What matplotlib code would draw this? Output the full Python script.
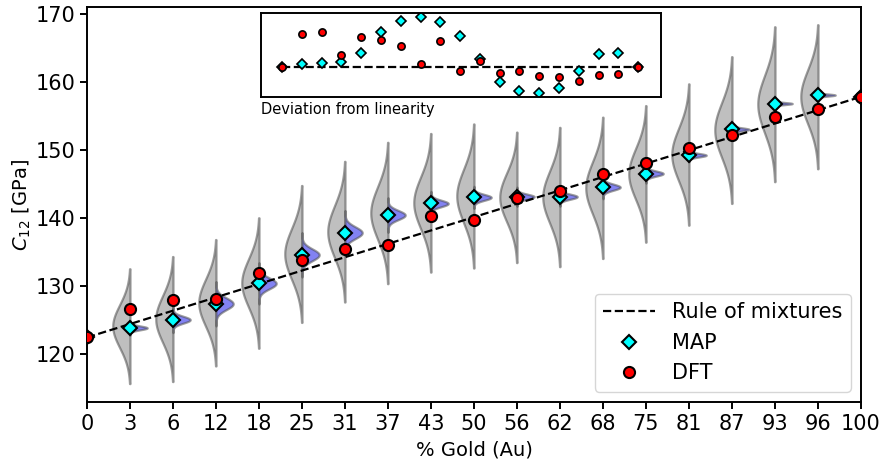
import numpy as np
import matplotlib
matplotlib.use("Agg")
import matplotlib.pyplot as plt
from matplotlib.lines import Line2D

# ---- data ----
pct_labels = [0, 3, 6, 12, 18, 25, 31, 37, 43, 50, 56, 62, 68, 75, 81, 87, 93, 96, 100]
au_32nds = [0, 1, 2, 4, 6, 8, 10, 12, 14, 16, 18, 20, 22, 24, 26, 28, 30, 31, 32]

dft = [122.4, 126.6, 127.9, 128.0, 131.9, 133.8, 135.4, 136.0, 140.3, 139.7,
       142.9, 144.0, 146.4, 148.1, 150.2, 152.1, 154.8, 156.0, 157.8]
map_est = [122.4, 123.8, 125.0, 127.35, 130.35, 134.55, 137.8, 140.4, 142.1, 143.0,
           143.1, 143.1, 144.5, 146.5, 149.2, 153.0, 156.8, 158.05, 157.8]

# gray (wide) distributions: lower / upper extent, positions 1..17
gray_lo = [115.6, 115.9, 118.2, 120.8, 124.6, 127.6, 130.3, 132.0, 132.6,
           133.4, 132.8, 134.0, 136.4, 138.9, 142.1, 145.3, 147.2]
gray_hi = [132.5, 134.3, 136.8, 140.0, 144.75, 148.3, 151.1, 152.4, 153.8,
           152.6, 153.3, 154.8, 156.5, 159.7, 163.7, 168.1, 168.4]
# blue (narrow) distributions: spread around the MAP value, positions 1..17
blue_sd = [0.28, 0.5, 0.86, 0.8, 0.86, 0.86, 0.67, 0.47, 0.43,
           0.37, 0.37, 0.45, 0.37, 0.25, 0.22, 0.15, 0.15]

# ---- figure ----
fig = plt.figure(figsize=(8.82, 4.61), dpi=100)
ax = fig.add_axes([0.0986, 0.128, 0.8776, 0.8568])

n = len(pct_labels)
pos = np.arange(n)
half = 0.4
face_gray = (0.75, 0.75, 0.75)
edge = (0.3, 0.3, 0.3, 0.55)
face_blue = '#8282f2'

for k in range(1, n - 1):
    lo, hi = gray_lo[k - 1], gray_hi[k - 1]
    c = 0.5 * (lo + hi)
    s = (hi - lo) / 5.4
    y = np.linspace(lo, hi, 300)
    d = np.exp(-0.5 * ((y - c) / s) ** 2)
    w = half * d / d.max()
    ax.fill_betweenx(y, k - w, k, facecolor=face_gray, edgecolor=edge, lw=1.6, zorder=1)

    sb = blue_sd[k - 1]
    mb = map_est[k]
    yb = np.linspace(mb - 3.8 * sb, mb + 3.8 * sb, 300)
    db = np.exp(-0.5 * ((yb - mb) / sb) ** 2)
    wb = half * db / db.max()
    ax.fill_betweenx(yb, k, k + wb, facecolor=face_blue, edgecolor=edge, lw=1.6, zorder=1)

ax.plot([pos[0], pos[-1]], [dft[0], dft[-1]], ls='--', color='black', lw=1.6, zorder=3)
ax.plot(pos, map_est, ls='none', marker='D', ms=7.5, mfc='cyan', mec='black', mew=1.5, zorder=4)
ax.plot(pos, dft, ls='none', marker='o', ms=8, mfc='red', mec='black', mew=1.5, zorder=5)

ax.set_xlim(0, n - 1)
ax.set_ylim(112.9, 171.0)
ax.set_xticks(pos)
ax.set_xticklabels([str(p) for p in pct_labels])
ax.set_yticks([120, 130, 140, 150, 160, 170])
ax.tick_params(labelsize=15, length=5, width=1.4)
for sp in ax.spines.values():
    sp.set_linewidth(1.4)
ax.set_xlabel('% Gold (Au)', fontsize=14, labelpad=5)
ax.set_ylabel('$C_{12}$ [GPa]', fontsize=14, labelpad=2)

handles = [
    Line2D([], [], ls='--', color='black', lw=1.6),
    Line2D([], [], ls='none', marker='D', ms=7.5, mfc='cyan', mec='black', mew=1.5),
    Line2D([], [], ls='none', marker='o', ms=8, mfc='red', mec='black', mew=1.5),
]
ax.legend(handles, ['Rule of mixtures', 'MAP', 'DFT'], loc='lower right',
          fontsize=15, handlelength=2.5)

# ---- inset: deviation from linearity (rule of mixtures in composition) ----
frac = np.array(au_32nds) / 32.0
rom = dft[0] + frac * (dft[-1] - dft[0])
dev_map = np.array(map_est) - rom
dev_dft = np.array(dft) - rom

axi = fig.add_axes([261 / 882, 1 - 97 / 461, 400 / 882, 84 / 461])
axi.plot([pos[0], pos[-1]], [0, 0], ls='--', color='black', lw=1.6, zorder=1)
axi.plot(pos, dev_map, ls='none', marker='D', ms=5, mfc='cyan', mec='black', mew=1.2, zorder=2)
axi.plot(pos, dev_dft, ls='none', marker='o', ms=5.2, mfc='red', mec='black', mew=1.2, zorder=3)
axi.set_xlim(-1.06, n - 1 + 1.15)
axi.margins(y=0.05)
axi.set_xticks([])
axi.set_yticks([])
for sp in axi.spines.values():
    sp.set_linewidth(1.4)
axi.text(0.0, -0.06, 'Deviation from linearity', transform=axi.transAxes,
         ha='left', va='top', fontsize=10.5)

fig.savefig('out.png', dpi=100)
